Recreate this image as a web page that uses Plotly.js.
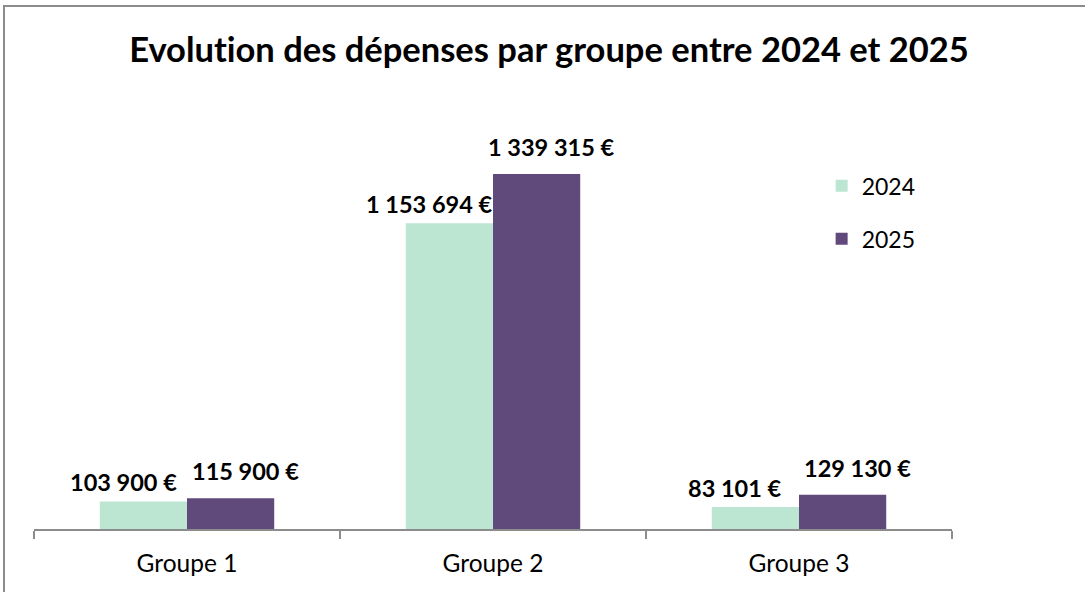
<!DOCTYPE html>
<html>
<head>
<meta charset="utf-8">
<script src="https://cdn.plot.ly/plotly-3.0.1.min.js"></script>
<style>
  html, body { margin: 0; padding: 0; background: #fff; overflow: hidden; }
  #wrap { position: relative; width: 1085px; height: 592px; }
  #chart { position: absolute; left: 0; top: 0; width: 1085px; height: 592px; }
  #frame { position: absolute; left: 3px; top: 5px; width: 1100px; height: 600px;
           border: 2px solid #8c8c8c; pointer-events: none; box-sizing: border-box; }
  text { font-variant-ligatures: none; font-feature-settings: "liga" 0; }
</style>
</head>
<body>
<div id="wrap"><div id="chart"></div><div id="frame"></div></div>
<script>
const categories = ["Groupe 1", "Groupe 2", "Groupe 3"];
const seriesNames = ["2024", "2025"];
const values2024 = [103900, 1153694, 83101];
const values2025 = [115900, 1339315, 129130];
const labels2024 = ["103 900 €", "1 153 694 €", "83 101 €"];
const labels2025 = ["115 900 €", "1 339 315 €", "129 130 €"];

const FONT = "Lato, 'Open Sans', sans-serif";
const colors = ["#BCE6D1", "#604A7B"];

const traces = [
  { type: "bar", name: seriesNames[0], x: categories, y: values2024,
    marker: { color: colors[0] }, legendgroup: "a", hoverinfo: "none" },
  { type: "bar", name: seriesNames[1], x: categories, y: values2025,
    marker: { color: colors[1] }, legendgroup: "b", hoverinfo: "none" }
];

const labelFont = { family: FONT, size: 23.5, color: "#000", weight: 700 };
const annotations = [];
categories.forEach((c, i) => {
  annotations.push({ x: c, y: values2024[i], xref: "x", yref: "y", text: labels2024[i],
    showarrow: false, xshift: -64, yshift: 19, font: labelFont });
  annotations.push({ x: c, y: values2025[i], xref: "x", yref: "y", text: labels2025[i],
    showarrow: false, xshift: 58, yshift: 27, font: labelFont });
});

const layout = {
  width: 1085, height: 592,
  margin: { l: 34, r: 133, t: 105, b: 63, pad: 0 },
  paper_bgcolor: "#fff", plot_bgcolor: "#fff",
  barmode: "group", bargap: 0.43, bargroupgap: 0,
  showlegend: true,
  title: { text: "Evolution des dépenses par groupe entre 2024 et 2025",
    font: { family: FONT, size: 34.5, color: "#000", weight: 700 },
    xref: "container", x: 0.506, xanchor: "center", yref: "container", y: 0.915, yanchor: "middle" },
  xaxis: { type: "category", range: [-0.5, 2.5], showline: true, linecolor: "#8c8c8c", linewidth: 2,
    ticks: "outside", tickson: "boundaries", ticklen: 8, tickwidth: 2, tickcolor: "#8c8c8c",
    ticklabelstandoff: 12,
    tickfont: { family: FONT, size: 24.5, color: "#000" }, showgrid: false, zeroline: false, fixedrange: true },
  yaxis: { range: [0, 1600000], visible: false, showgrid: false, zeroline: false, fixedrange: true },
  legend: { x: 0.858, xanchor: "left", y: 0.86, yanchor: "top", traceorder: "grouped",
    tracegroupgap: 20, font: { family: FONT, size: 23, color: "#000" }, bgcolor: "rgba(0,0,0,0)",
    itemwidth: 30 },
  annotations: annotations
};

Plotly.newPlot("chart", traces, layout, { displayModeBar: false, staticPlot: true });
</script>
</body>
</html>
